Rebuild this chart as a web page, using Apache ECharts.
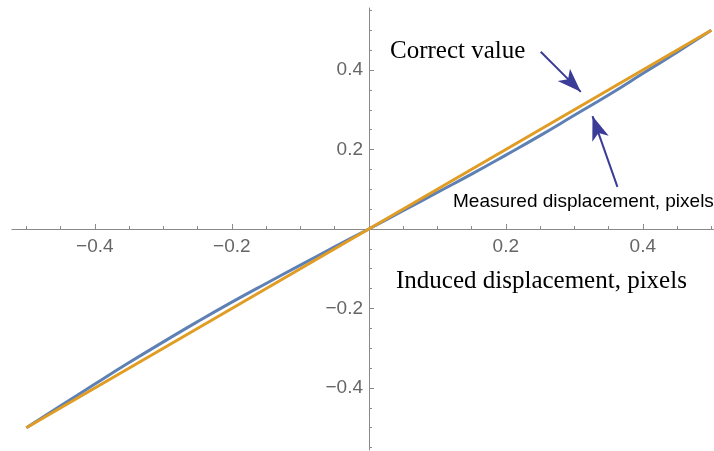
<!DOCTYPE html>
<html>
<head>
<meta charset="utf-8">
<script src="https://cdn.jsdelivr.net/npm/echarts@6/dist/echarts.min.js"></script>
<style>
  html, body { margin: 0; padding: 0; background: #fff; }
  #chart { width: 714px; height: 451px; }
</style>
</head>
<body>
<div id="chart"></div>
<script>
// measured curve (blue)
var measuredX = [-0.5, -0.45, -0.4, -0.35, -0.3, -0.25, -0.2, -0.15, -0.1, -0.05, 0, 0.05, 0.1, 0.15, 0.2, 0.25, 0.3, 0.35, 0.4, 0.45, 0.5];
var measuredY = [-0.5, -0.445, -0.39, -0.336, -0.284, -0.233, -0.184, -0.137, -0.091, -0.045, 0, 0.046, 0.092, 0.138, 0.186, 0.235, 0.286, 0.337, 0.391, 0.445, 0.5];
// correct value (orange)
var correctX = [-0.5, 0, 0.5];
var correctY = [-0.5, 0, 0.5];

var majorX = [-0.4, -0.2, 0.2, 0.4];
var minorX = [-0.5, -0.45, -0.35, -0.3, -0.25, -0.15, -0.1, -0.05, 0.05, 0.1, 0.15, 0.25, 0.3, 0.35, 0.45, 0.5];
var majorY = [-0.4, -0.2, 0.2, 0.4];
var minorY = [-0.55, -0.5, -0.45, -0.35, -0.3, -0.25, -0.15, -0.1, -0.05, 0.05, 0.1, 0.15, 0.25, 0.3, 0.35, 0.45, 0.5, 0.55];

// arrows: [tail, tip] in data units
var arrowCorrect = [[0.251, 0.446], [0.3095, 0.345]];
var arrowMeasured = [[0.363, 0.106], [0.3266, 0.284]];

function pairs(xs, ys) {
  return xs.map(function (x, i) { return [x, ys[i]]; });
}
function fmt(v) {
  return String(v).replace('-', '\u2212');
}

var axisGray = '#8a8a8a';
var labelGray = '#666';
var arrowColor = '#3b3b98';

// grid box: 12..714 x 8..450, zero lines cross at (369, 229)
var xOff = -(450 - 229);
var yOff = -(369 - 12);

var chart = echarts.init(document.getElementById('chart'));

function arrowLine(a) {
  return [{ coord: a[0] }, { coord: a[1] }];
}

chart.setOption({
  animation: false,
  grid: { left: 12, right: 0, top: 8, bottom: 1, outerBoundsMode: 'none', containLabel: false },
  xAxis: [
    {
      type: 'value', min: -0.521, max: 0.504, position: 'bottom', offset: xOff,
      axisLine: { onZero: false, lineStyle: { color: axisGray, width: 1 } },
      axisTick: { inside: true, length: 5, customValues: majorX, lineStyle: { color: axisGray } },
      axisLabel: { customValues: majorX, formatter: fmt, color: labelGray, fontSize: 19, margin: 8, fontFamily: 'Liberation Sans' },
      splitLine: { show: false }
    },
    {
      type: 'value', min: -0.521, max: 0.504, position: 'bottom', offset: xOff,
      axisLine: { show: false, onZero: false },
      axisTick: { inside: true, length: 3, customValues: minorX, lineStyle: { color: axisGray } },
      axisLabel: { show: false },
      splitLine: { show: false }
    }
  ],
  yAxis: [
    {
      type: 'value', min: -0.556, max: 0.556, position: 'left', offset: yOff,
      axisLine: { show: true, onZero: false, lineStyle: { color: axisGray, width: 1 } },
      axisTick: { show: true, inside: true, length: 5, customValues: majorY, lineStyle: { color: axisGray } },
      axisLabel: { customValues: majorY, formatter: fmt, color: labelGray, fontSize: 19, margin: 6, fontFamily: 'Liberation Sans' },
      splitLine: { show: false }
    },
    {
      type: 'value', min: -0.556, max: 0.556, position: 'left', offset: yOff,
      axisLine: { show: false, onZero: false },
      axisTick: { show: true, inside: true, length: 3, customValues: minorY, lineStyle: { color: axisGray } },
      axisLabel: { show: false },
      splitLine: { show: false }
    }
  ],
  series: [
    {
      name: 'Measured displacement, pixels',
      type: 'line',
      data: pairs(measuredX, measuredY),
      smooth: true,
      showSymbol: false,
      lineStyle: { color: '#5E81B5', width: 3 }
    },
    {
      name: 'Correct value',
      type: 'line',
      data: pairs(correctX, correctY),
      showSymbol: false,
      lineStyle: { color: '#E19C24', width: 3 },
      markLine: {
        silent: true,
        symbol: ['none', 'arrow'],
        symbolSize: [13, 24],
        label: { show: false },
        lineStyle: { color: arrowColor, width: 2, type: 'solid' },
        data: [arrowLine(arrowCorrect), arrowLine(arrowMeasured)]
      }
    }
  ],
  graphic: [
    {
      type: 'text', left: 390, top: 39,
      style: { text: 'Correct value', font: '25px "Liberation Serif"', fill: '#000' }
    },
    {
      type: 'text', left: 453, top: 192,
      style: { text: 'Measured displacement, pixels', font: '19px "Liberation Sans"', fill: '#000', letterSpacing: -0.3 }
    },
    {
      type: 'text', left: 396, top: 269,
      style: { text: 'Induced displacement, pixels', font: '25px "Liberation Serif"', fill: '#000' }
    }
  ]
});
</script>
</body>
</html>
